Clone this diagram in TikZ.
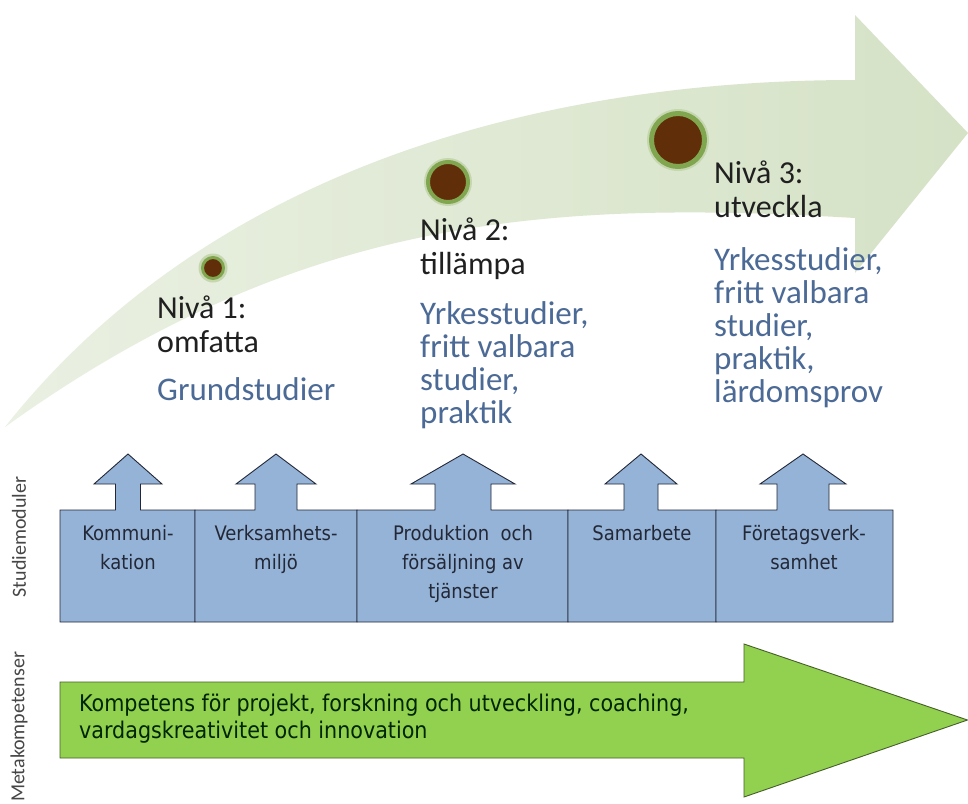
\documentclass[tikz,border=0pt]{standalone}
\usepackage{fontspec}
\setmainfont{Carlito}
\newfontfamily\condfont{DejaVu Sans Condensed}
\definecolor{arrowgreen}{RGB}{213,226,198}
\definecolor{arrowgreenlight}{RGB}{234,240,226}
\definecolor{dotbrown}{RGB}{96,46,8}
\definecolor{dotring}{RGB}{128,166,80}
\definecolor{nivtext}{RGB}{32,32,32}
\definecolor{bluetext}{RGB}{76,106,150}
\definecolor{boxblue}{RGB}{149,179,215}
\definecolor{boxline}{RGB}{35,40,55}
\definecolor{metagreen}{RGB}{146,208,80}
\definecolor{metaline}{RGB}{70,95,40}
\definecolor{sidegray}{RGB}{70,70,70}
\begin{document}
\begin{tikzpicture}[x=1pt,y=-1pt,
  niv/.style={font=\fontsize{32}{34}\selectfont, text=nivtext, align=left, inner sep=0, anchor=base west},
  blu/.style={font=\fontsize{33}{33}\selectfont, text=bluetext, align=left, inner sep=0, anchor=base west},
  boxtext/.style={font=\condfont\fontsize{20}{29}\selectfont, text=boxline, align=center, inner sep=0, anchor=base},
  modbox/.style={fill=boxblue, draw=boxline, line width=0.9pt, line join=miter},
  metaarrow/.style={fill=metagreen, draw=metaline, line width=0.9pt},
  metatext/.style={font=\condfont\fontsize{23}{27}\selectfont, text=black!85!green, align=left, inner sep=0, anchor=base west},
  sidelabel/.style={font=\fontsize{20}{20}\selectfont, text=sidegray, rotate=90, inner sep=0},
  glow/.style={circle, fill=dotring!45, inner sep=0},
  dotnode/.style={circle, fill=dotbrown, draw=dotring, inner sep=0}
]
\useasboundingbox[fill=white] (0,0) rectangle (968,803);

% big curved arrow
\shade[left color=arrowgreenlight, right color=arrowgreen]
  (5,427) .. controls (200,180) and (520,80) .. (855,80)
  -- (855,15) -- (968,133) -- (855,273) -- (855,218)
  .. controls (550,200) and (300,215) .. (5,427) -- cycle;

% dots
\node[glow, minimum size=29pt] (g1) at (213,268) {};
\node[dotnode, line width=3pt, minimum size=21pt] (d1) at (213,268) {};
\node[glow, minimum size=48pt] (g2) at (448,182) {};
\node[dotnode, line width=4pt, minimum size=40pt] (d2) at (448,182) {};
\node[glow, minimum size=62pt] (g3) at (678,140) {};
\node[dotnode, line width=5pt, minimum size=53pt] (d3) at (678,140) {};

% level texts (base anchor = last line)
\node[niv] (n1) at (157,352) {Nivå 1:\\omfatta};
\node[blu] (b1) at (157,400) {Grundstudier};
\node[niv] (n2) at (420,274) {Nivå 2:\\tillämpa};
\node[blu] (b2) at (420,423) {Yrkesstudier,\\fritt valbara\\studier,\\praktik};
\node[niv] (n3) at (714,217) {Nivå 3:\\utveckla};
\node[blu] (b3) at (714,402) {Yrkesstudier,\\fritt valbara\\studier,\\praktik,\\lärdomsprov};

% module boxes with up arrows
\foreach \L/\R/\c/\s/\h in {60/195/128/12.5/34, 195/357/276/21/40, 357/568/463/28/52, 568/716/641/17/36, 716/893/803/26/43}{
  \draw[modbox] (\L,622) -- (\L,510) -- (\c-\s,510) -- (\c-\s,484) -- (\c-\h,484)
    -- (\c,454) -- (\c+\h,484) -- (\c+\s,484) -- (\c+\s,510) -- (\R,510) -- (\R,622) -- cycle;
}
\node[boxtext] (m1) at (128,569) {Kommuni-\\kation};
\node[boxtext] (m2) at (276,569) {Verksamhets-\\miljö};
\node[boxtext] (m3) at (463,598) {Produktion\ \ och\\försäljning av\\tjänster};
\node[boxtext] (m4) at (642,540) {Samarbete};
\node[boxtext] (m5) at (804,569) {Företagsverk-\\samhet};

% meta competence arrow
\draw[metaarrow] (60,682) -- (744,682) -- (744,644) -- (967.5,720) -- (744,797) -- (744,758) -- (60,758) -- cycle;
\node[metatext] (mt) at (79,738) {Kompetens för projekt, forskning och utveckling, coaching,\\vardagskreativitet och innovation};

% side labels
\node[sidelabel] (s1) at (19,537) {Studiemoduler};
\node[sidelabel] (s2) at (19,727) {Metakompetenser};
\end{tikzpicture}
\end{document}
